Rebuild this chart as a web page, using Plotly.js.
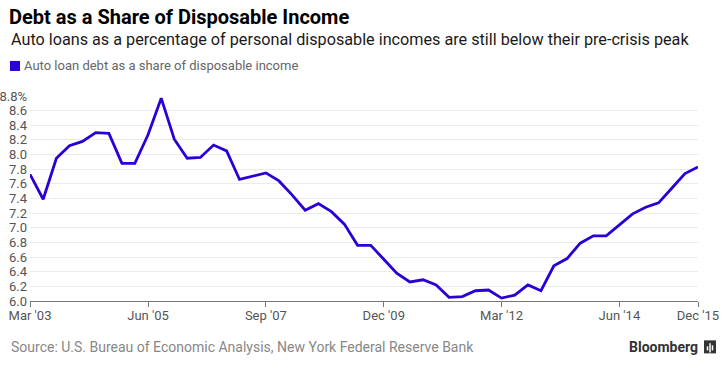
<!DOCTYPE html>
<html>
<head>
<meta charset="utf-8">
<script src="https://cdn.plot.ly/plotly-3.0.1.min.js"></script>
<style>
html,body{margin:0;padding:0;background:#fff;}
#chart{width:723px;height:377px;}
</style>
</head>
<body>
<div id="chart"></div>
<script>
var quarters = [
"2003-03","2003-06","2003-09","2003-12",
"2004-03","2004-06","2004-09","2004-12",
"2005-03","2005-06","2005-09","2005-12",
"2006-03","2006-06","2006-09","2006-12",
"2007-03","2007-06","2007-09","2007-12",
"2008-03","2008-06","2008-09","2008-12",
"2009-03","2009-06","2009-09","2009-12",
"2010-03","2010-06","2010-09","2010-12",
"2011-03","2011-06","2011-09","2011-12",
"2012-03","2012-06","2012-09","2012-12",
"2013-03","2013-06","2013-09","2013-12",
"2014-03","2014-06","2014-09","2014-12",
"2015-03","2015-06","2015-09","2015-12"
];
var autoLoanShare = [
7.73,7.39,7.95,8.12,
8.18,8.30,8.29,7.88,
7.88,8.27,8.77,8.21,
7.95,7.96,8.13,8.05,
7.66,7.71,7.75,7.64,
7.45,7.24,7.33,7.22,
7.05,6.76,6.76,6.57,
6.38,6.26,6.29,6.22,
6.05,6.06,6.14,6.15,
6.04,6.08,6.22,6.14,
6.48,6.58,6.79,6.89,
6.89,7.04,7.19,7.28,
7.34,7.54,7.74,7.83
];
var xTickVals = ["2003-03","2005-06","2007-09","2009-12","2012-03","2014-06","2015-12"];
var xTickText = ["Mar '03","Jun '05","Sep '07","Dec '09","Mar '12","Jun '14","Dec '15"];
var yTickVals = [6.0,6.2,6.4,6.6,6.8,7.0,7.2,7.4,7.6,7.8,8.0,8.2,8.4,8.6,8.8];
var yTickText = ["6.0","6.2","6.4","6.6","6.8","7.0","7.2","7.4","7.6","7.8","8.0","8.2","8.4","8.6","8.8%"];
var seriesName = "Auto loan debt as a share of disposable income";

var FONT = "Roboto, 'Liberation Sans', Arial, sans-serif";
var BLUE = "#2a00d6";

var L = 30, R = 698, T = 96, B = 300.7;
function px(x){ return (x - L) / (R - L); }
function py(y){ return (B - y) / (B - T); }

var trace = {
  x: quarters,
  y: autoLoanShare,
  type: "scatter",
  mode: "lines",
  name: seriesName,
  line: {color: BLUE, width: 2.8},
  hoverinfo: "x+y",
  showlegend: false
};

var layout = {
  width: 723,
  height: 377,
  margin: {l: L, r: 723 - R, t: T, b: 377 - B},
  paper_bgcolor: "#ffffff",
  plot_bgcolor: "#ffffff",
  font: {family: FONT, color: "#555"},
  title: {
    text: "Debt as a Share of Disposable Income",
    font: {family: FONT, size: 20, color: "#000", weight: 700},
    x: 9/723, xref: "container", xanchor: "left",
    y: 1 - 17/377, yref: "container", yanchor: "middle"
  },
  xaxis: {
    type: "date",
    range: ["2003-03", "2015-12"],
    tickvals: xTickVals,
    ticktext: xTickText,
    ticks: "outside",
    ticklen: 5,
    tickcolor: "#777",
    tickwidth: 1,
    ticklabelstandoff: -3,
    showgrid: false,
    showline: true,
    linecolor: "#777",
    linewidth: 1,
    zeroline: false,
    tickfont: {family: FONT, size: 13, color: "#555"},
    fixedrange: true
  },
  yaxis: {
    range: [6.0, 8.8],
    tickvals: yTickVals,
    ticktext: yTickText,
    showgrid: true,
    gridcolor: "#ebebeb",
    gridwidth: 1,
    zeroline: false,
    showline: false,
    ticks: "",
    ticklabelstandoff: 2,
    tickfont: {family: FONT, size: 13, color: "#555"},
    fixedrange: true
  },
  shapes: [
    {type: "rect", xref: "paper", yref: "paper",
     x0: px(10), x1: px(20), y0: py(71), y1: py(61),
     fillcolor: BLUE, line: {width: 0}},
    {type: "rect", xref: "paper", yref: "paper",
     x0: px(704), x1: px(716), y0: py(353), y1: py(340),
     fillcolor: "#333", line: {width: 0}},
    {type: "line", xref: "paper", yref: "paper",
     x0: px(707.5), x1: px(707.5), y0: py(350), y1: py(346),
     line: {color: "#fff", width: 1.5}},
    {type: "line", xref: "paper", yref: "paper",
     x0: px(710), x1: px(710), y0: py(352), y1: py(343),
     line: {color: "#fff", width: 1.5}},
    {type: "line", xref: "paper", yref: "paper",
     x0: px(712.5), x1: px(712.5), y0: py(350), y1: py(345),
     line: {color: "#fff", width: 1.5}}
  ],
  annotations: [
    {text: "Auto loans as a percentage of personal disposable incomes are still below their pre-crisis peak",
     xref: "paper", yref: "paper", x: px(9), y: py(40), xanchor: "left", yanchor: "middle",
     showarrow: false, font: {family: FONT, size: 16.2, color: "#1a1a1a"}},
    {text: seriesName,
     xref: "paper", yref: "paper", x: px(22), y: py(66), xanchor: "left", yanchor: "middle",
     showarrow: false, font: {family: FONT, size: 13, color: "#666"}},
    {text: "Source: U.S. Bureau of Economic Analysis, New York Federal Reserve Bank",
     xref: "paper", yref: "paper", x: px(9), y: py(347), xanchor: "left", yanchor: "middle",
     showarrow: false, font: {family: FONT, size: 14, color: "#888"}},
    {text: "<b>Bloomberg</b>",
     xref: "paper", yref: "paper", x: px(700), y: py(347), xanchor: "right", yanchor: "middle",
     showarrow: false, font: {family: FONT, size: 14, color: "#333"}}
  ]
};

Plotly.newPlot("chart", [trace], layout, {displayModeBar: false, staticPlot: true});
</script>
</body>
</html>
